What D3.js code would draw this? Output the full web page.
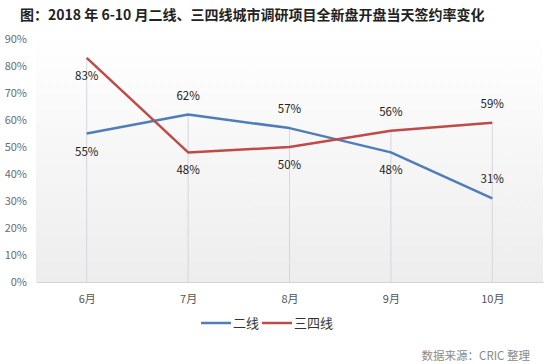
<!DOCTYPE html>
<html><head><meta charset="utf-8">
<script src="https://cdn.jsdelivr.net/npm/d3@7"></script>
<style>body{margin:0;background:#fff;}svg{display:block;font-family:"Noto Sans CJK SC","Microsoft YaHei",sans-serif;}</style>
</head><body>
<svg id="c" width="550" height="364"></svg>
<script>
const title = "图：2018 年 6-10 月二线、三四线城市调研项目全新盘开盘当天签约率变化";
const months = ["6月","7月","8月","9月","10月"];
const seriesNames = ["二线","三四线"];
const tier2 = [55,62,57,48,31];
const tier34 = [83,48,50,56,59];
const yTicks = [0,10,20,30,40,50,60,70,80,90];
const tier2LabelPos = ["below","above","above","below","above"];
const tier34LabelPos = ["below","below","below","above","above"];
const colors = ["#4f7db8","#be4b48"];
const source = "数据来源：CRIC 整理";

const svg = d3.select("#c");
const L=36, R=543, T=39, B=282;
const x = d3.scalePoint().domain(months).range([L,R]).padding(0.5);
const y = d3.scaleLinear().domain([0,90]).range([B,T]);

const defs = svg.append("defs");
const g = defs.append("linearGradient").attr("id","bg").attr("x1",0).attr("y1",0).attr("x2",0).attr("y2",1);
g.append("stop").attr("offset","0%").attr("stop-color","#ffffff");
g.append("stop").attr("offset","100%").attr("stop-color","#ededed");
svg.append("rect").attr("x",L).attr("y",T-5).attr("width",R-L).attr("height",B-T+5).attr("fill","url(#bg)");

svg.append("text").attr("x",20).attr("y",20).attr("font-size",14).attr("font-weight","bold").attr("fill","#222").text(title);

// y axis labels
svg.append("g").selectAll("text").data(yTicks).join("text")
  .attr("x",27).attr("y",d=>y(d)+4).attr("text-anchor","end")
  .attr("font-size",11).attr("fill","#6a6a6a").text(d=>d+"%");

// x axis
const xa = svg.append("g").attr("transform",`translate(0,${B})`)
  .call(d3.axisBottom(x).tickSize(0).tickPadding(13));
xa.select(".domain").attr("stroke","#d4d4d4");
xa.selectAll("text").attr("font-size",11).attr("fill","#555").attr("font-family","'Noto Sans CJK SC',sans-serif");

// drop lines
svg.append("g").selectAll("line").data(months).join("line")
  .attr("x1",d=>x(d)).attr("x2",d=>x(d))
  .attr("y1",(d,i)=>y(Math.max(tier2[i],tier34[i]))).attr("y2",B)
  .attr("stroke","#d6d6dc").attr("stroke-width",1);

const line = d3.line().x((d,i)=>x(months[i])).y(d=>y(d));
[tier2,tier34].forEach((s,k)=>{
  svg.append("path").datum(s).attr("d",line).attr("fill","none")
    .attr("stroke",colors[k]).attr("stroke-width",2.5).attr("stroke-linejoin","round");
});

function labels(s,pos){
  svg.append("g").selectAll("text").data(s).join("text")
    .attr("x",(d,i)=>x(months[i])).attr("y",(d,i)=>pos[i]==="above"? y(d)-15 : y(d)+22)
    .attr("text-anchor","middle").attr("font-size",11.5).attr("fill","#222").text(d=>d+"%");
}
labels(tier2,tier2LabelPos);
labels(tier34,tier34LabelPos);

// legend
const lg = svg.append("g");
const items = [{x:201,name:seriesNames[0],c:colors[0]},{x:262,name:seriesNames[1],c:colors[1]}];
items.forEach(it=>{
  lg.append("line").attr("x1",it.x).attr("x2",it.x+30).attr("y1",323).attr("y2",323).attr("stroke",it.c).attr("stroke-width",2.5);
  lg.append("text").attr("x",it.x+32).attr("y",328).attr("font-size",13).attr("fill","#333").text(it.name);
});

svg.append("text").attr("x",530).attr("y",360).attr("text-anchor","end").attr("font-size",11.5).attr("fill","#8a8a8a").text(source);
</script>
</body></html>
